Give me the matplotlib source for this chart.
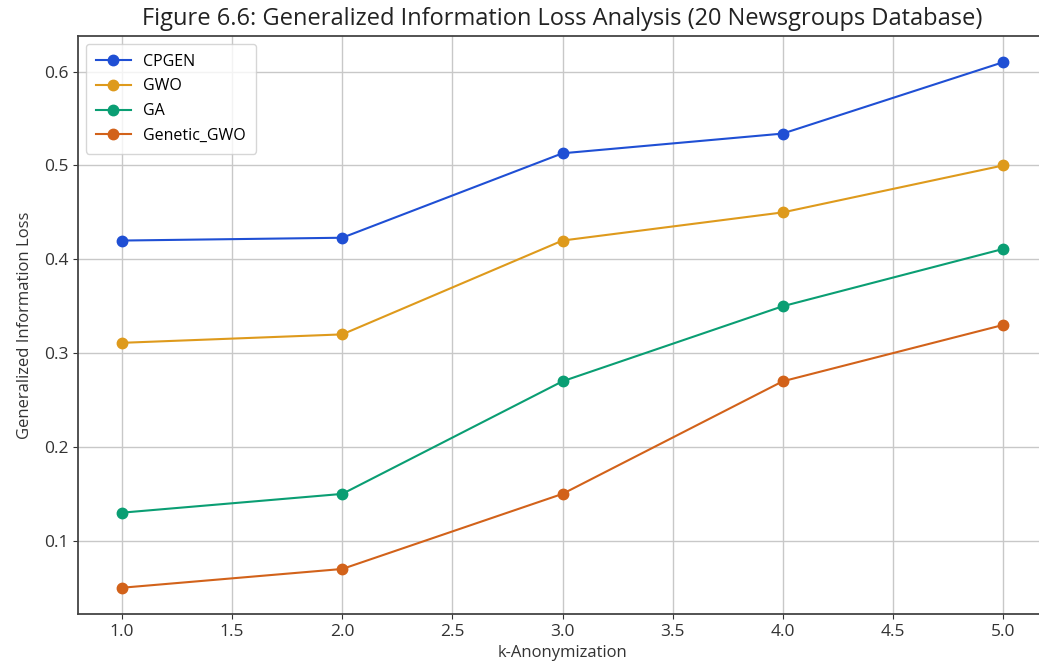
import matplotlib
matplotlib.use("Agg")
import matplotlib.pyplot as plt

plt.rcParams['font.family'] = ['Open Sans', 'DejaVu Sans']

k_values = [1, 2, 3, 4, 5]
cpgen = [0.420, 0.423, 0.513, 0.534, 0.610]
gwo = [0.311, 0.320, 0.420, 0.450, 0.500]
ga = [0.130, 0.150, 0.270, 0.350, 0.411]
genetic_gwo = [0.050, 0.070, 0.150, 0.270, 0.330]

labels = ["CPGEN", "GWO", "GA", "Genetic_GWO"]
colors = ["#1f4fd4", "#de9a1c", "#0a9e73", "#d2621a"]

fig = plt.figure(figsize=(10.39, 6.72), dpi=100)
ax = fig.add_axes([78/1039, 1 - 614/672, (1047 - 78)/1039, (614 - 36)/672])

for series, lab, col in zip([cpgen, gwo, ga, genetic_gwo], labels, colors):
    ax.plot(k_values, series, marker='o', markersize=7.5, linewidth=1.5,
            color=col, label=lab)

ax.set_xlim(0.8, 5.2)
ax.set_ylim(0.022, 0.638)
ax.set_xticks([1.0, 1.5, 2.0, 2.5, 3.0, 3.5, 4.0, 4.5, 5.0])
ax.set_yticks([0.1, 0.2, 0.3, 0.4, 0.5, 0.6])
ax.tick_params(labelsize=12.5, colors='#333333', labelcolor='#333333')
ax.grid(True, color='#c8c8c8', linewidth=1.0)
for s in ax.spines.values():
    s.set_color('#444444')
    s.set_linewidth(1.3)
ax.spines['right'].set_visible(False)

ax.set_xlabel("k-Anonymization", fontsize=12, color='#333333', labelpad=4)
ax.set_ylabel("Generalized Information Loss", fontsize=12, color='#333333', labelpad=8)
ax.set_title("Figure 6.6: Generalized Information Loss Analysis (20 Newsgroups Database)",
             fontsize=17, color='#222222', pad=8)
ax.legend(loc='upper left', fontsize=11.5, framealpha=0.8, borderpad=0.6,
          handlelength=2.2, labelspacing=0.55)

fig.savefig("out.png", dpi=100)
